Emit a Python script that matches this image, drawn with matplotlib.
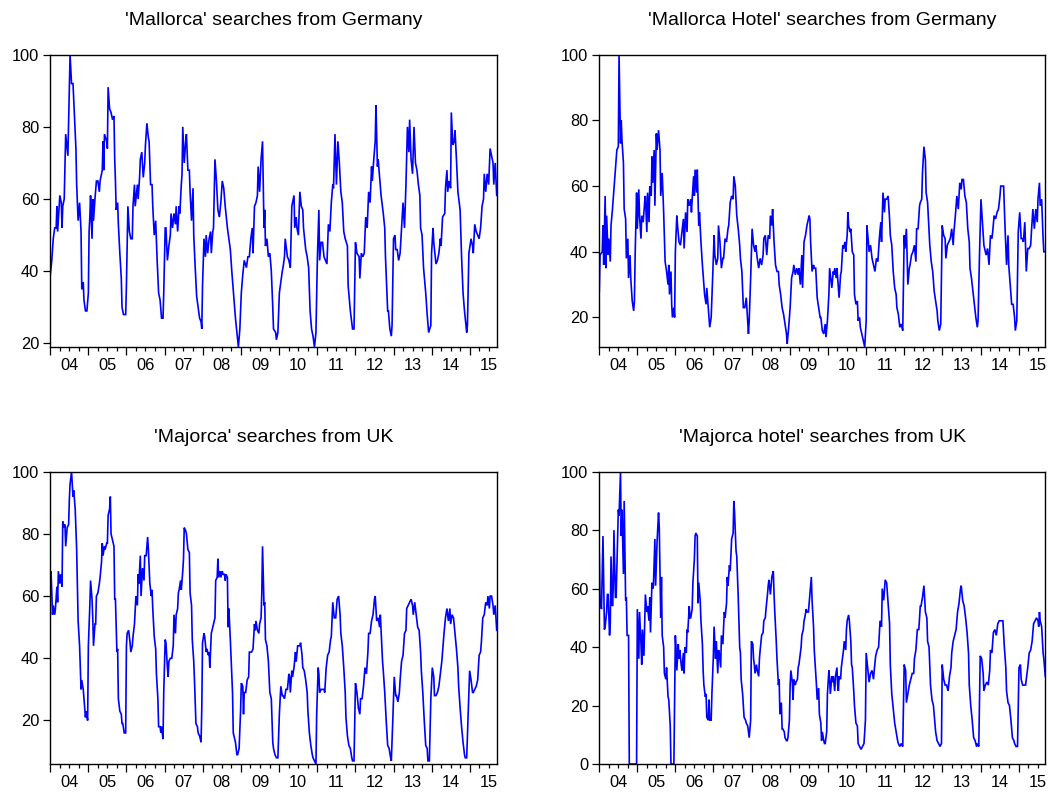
import numpy as np
import matplotlib
matplotlib.use('Agg')
import matplotlib.pyplot as plt
import matplotlib.dates as mdates
from matplotlib.ticker import NullFormatter

plt.rcParams['font.family'] = ['Liberation Sans', 'DejaVu Sans']

# ---------------- data (weekly Google Trends index, week 0 = 2004-01-04) -------------
start_date = '2004-01-04'
years = list(range(2004, 2016))
year_labels = ['04', '05', '06', '07', '08', '09', '10', '11', '12', '13', '14', '15']

titles = ["'Mallorca' searches from Germany",
          "'Mallorca Hotel' searches from Germany",
          "'Majorca' searches from UK",
          "'Majorca hotel' searches from UK"]

# (week, value)
mallorca_de = [(0,39),(2,43),(4,49),(6,52),(8,52),(9,58),(10,51),(13,61),(15,59),(16,52),(17,58),(19,60),
 (21,78),(24,72),(25,81),(27,100),(29,92),(31,92),(33,83),(35,74),(36,64),(38,54),(40,59),(42,51),(43,35),
 (45,37),(46,32),(48,29),(50,29),(52,34),(53,51),(54,55),(55,61),(57,49),(58,60),(59,54),(61,60),(63,65),
 (65,65),(67,62),(68,65),(71,68),(72,76),(73,68),(74,78),(77,76),(78,74),(79,91),(81,85),(83,84),(85,82),
 (87,83),(88,71),(89,65),(90,57),(92,59),(93,53),(95,45),(97,38),(98,30),(100,28),(103,28),(104,36),(105,47),
 (106,58),(108,51),(110,49),(112,49),(113,58),(115,64),(116,58),(119,64),(120,60),(122,66),(123,71),(125,73),
 (127,66),(129,70),(130,75),(132,81),(134,77),(135,76),(137,64),(139,64),(140,58),(142,50),(144,54),(146,43),
 (148,34),(150,32),(152,27),(154,27),(155,34),(157,52),(158,52),(160,43),(162,47),(164,50),(165,56),(167,52),
 (169,56),(171,53),(172,58),(174,51),(176,58),(177,56),(179,64),(180,67),(181,80),(183,70),(185,76),(186,78),
 (188,68),(190,68),(191,62),(193,54),(195,63),(196,50),(198,41),(200,33),(202,30),(204,27),(206,26),(207,24),
 (208,36),(210,49),(212,44),(213,50),(215,45),(217,49),(219,51),(220,45),(222,51),(223,52),(225,71),(227,65),
 (229,57),(231,55),(233,59),(235,65),(237,63),(239,58),(242,52),(244,49),(246,46),(248,40),(251,32),(253,27),
 (255,23),(257,19),(259,24),(261,34),(263,39),(265,43),(268,41),(270,44),(272,44),(274,49),(276,52),(277,45),
 (279,58),(281,59),(283,61),(284,69),(286,62),(288,71),(290,76),(292,52),(293,57),(294,47),(296,49),(298,44),
 (300,45),(302,40),(304,30),(305,24),(308,23),(309,21),(311,23),(313,34),(315,37),(317,40),(318,41),(320,44),
 (321,49),(324,44),(326,43),(328,41),(330,58),(331,59),(333,61),(334,52),(336,55),(337,52),(339,50),(341,62),
 (343,58),(345,57),(346,52),(349,46),(351,44),(353,41),(355,29),(357,24),(359,22),(361,19),(363,23),(365,44),
 (367,57),(368,43),(370,48),(372,48),(374,44),(376,43),(378,42),(380,53),(382,51),(384,59),(386,64),(387,63),
 (389,78),(391,64),(393,76),(395,70),(397,62),(399,59),(401,51),(403,49),(406,47),(407,36),(410,29),(413,24),
 (415,24),(417,48),(419,45),(422,44),(423,38),(425,45),(427,44),(429,45),(431,55),(433,52),(435,62),(437,59),
 (439,69),(440,65),(442,71),(444,76),(445,86),(447,69),(448,71),(450,66),(452,61),(455,56),(457,52),(458,44),
 (461,29),(462,29),(464,24),(466,22),(467,25),(469,49),(471,50),(472,46),(474,46),(476,43),(478,45),(480,52),
 (482,59),(484,52),(486,64),(488,80),(490,73),(491,82),(493,71),(495,67),(497,80),(499,70),(501,68),(503,64),
 (505,61),(506,52),(508,50),(510,41),(513,34),(515,28),(517,23),(520,25),(521,45),(523,52),(524,48),(527,42),
 (529,43),(531,45),(533,49),(534,47),(536,55),(539,56),(540,63),(542,68),(543,62),(545,65),(547,63),(548,84),
 (550,75),(552,76),(553,79),(555,71),(557,62),(560,57),(562,44),(564,34),(566,29),(569,23),(570,25),(572,45),
 (575,49),(577,47),(578,45),(580,53),(582,51),(584,50),(586,49),(588,52),(590,58),(592,60),(593,67),(595,62),
 (597,67),(599,64),(601,74),(603,72),(605,70),(606,64),(608,70),(610,61)]

mallorca_hotel_de = [(0,28),(1,39),(4,40),(5,48),(6,36),(8,57),(9,35),(10,51),(12,39),(13,44),(15,37),(16,48),
 (18,53),(20,59),(22,65),(24,71),(26,72),(27,100),(29,73),(30,80),(31,74),(33,67),(34,53),(36,50),(37,38),
 (39,44),(40,32),(42,39),(43,32),(45,25),(47,22),(48,25),(49,39),(51,58),(52,47),(54,59),(55,51),(57,44),
 (58,51),(60,49),(62,55),(63,57),(65,46),(66,58),(68,49),(69,60),(71,57),(72,69),(73,61),(75,71),(76,54),
 (78,76),(79,71),(81,77),(83,71),(84,57),(86,64),(88,52),(89,45),(90,37),(92,34),(94,30),(95,36),(96,27),
 (98,34),(99,24),(100,20),(102,23),(103,20),(104,40),(106,51),(107,48),(109,43),(111,42),(113,46),(115,50),
 (116,41),(118,52),(120,46),(121,56),(123,54),(125,56),(126,52),(127,56),(129,63),(130,57),(131,65),(133,58),
 (134,65),(136,48),(137,52),(139,43),(141,36),(143,30),(144,27),(146,24),(147,29),(149,23),(151,17),(153,20),
 (155,32),(157,45),(158,39),(160,36),(162,38),(163,48),(165,43),(167,35),(169,38),(170,38),(172,44),(174,43),
 (176,47),(177,48),(179,55),(181,57),(183,56),(184,63),(186,60),(188,51),(190,47),(192,42),(193,38),(195,34),
 (197,23),(199,23),(201,26),(203,19),(204,15),(205,19),(207,32),(209,47),(211,42),(213,40),(214,42),(216,38),
 (218,35),(220,38),(222,36),(224,39),(225,44),(227,45),(229,39),(231,45),(233,44),(234,51),(236,48),(237,53),
 (239,43),(241,36),(243,34),(245,34),(246,30),(248,27),(250,23),(252,21),(254,18),(256,15),(257,12),(259,17),
 (261,23),(263,32),(265,34),(266,36),(268,33),(270,35),(272,33),(273,35),(275,30),(277,39),(278,29),(280,43),
 (282,45),(284,48),(287,51),(288,50),(289,43),(291,34),(293,36),(294,35),(296,35),(298,26),(300,23),(302,20),
 (303,20),(305,16),(307,15),(309,18),(310,14),(312,19),(314,27),(315,35),(316,33),(318,29),(320,34),(321,33),
 (322,35),(324,32),(325,35),(327,29),(328,26),(330,33),(331,34),(333,42),(334,41),(336,43),(337,40),(339,45),
 (340,52),(341,48),(343,46),(344,47),(346,40),(348,39),(349,27),(351,24),(353,25),(354,19),(356,20),(357,17),
 (359,15),(361,13),(363,11),(365,19),(366,48),(368,43),(369,40),(371,42),(373,38),(375,36),(377,34),(379,38),
 (381,37),(383,44),(385,49),(386,43),(388,58),(390,52),(391,56),(393,56),(395,57),(397,50),(398,45),(400,42),
 (402,34),(404,29),(406,27),(407,23),(409,21),(411,17),(413,18),(415,16),(417,45),(418,41),(420,47),(422,30),
 (424,35),(425,36),(427,39),(429,40),(431,42),(433,37),(434,47),(436,47),(438,54),(439,55),(441,56),(442,64),
 (444,72),(446,68),(447,58),(449,55),(451,46),(452,42),(454,37),(456,34),(458,28),(460,25),(462,22),(463,19),
 (465,16),(467,18),(469,48),(471,45),(473,44),(474,38),(476,42),(478,43),(480,44),(482,47),(484,42),(485,46),
 (487,51),(489,57),(491,53),(493,61),(495,59),(496,62),(498,62),(500,57),(502,55),(504,47),(506,43),(507,35),
 (509,32),(511,28),(513,24),(515,20),(517,17),(518,19),(520,39),(522,56),(524,49),(526,42),(527,41),(529,39),
 (531,41),(533,36),(535,45),(537,44),(538,46),(540,51),(542,50),(544,52),(546,53),(548,57),(549,60),(551,60),
 (553,60),(555,47),(557,36),(559,45),(560,36),(562,30),(564,24),(566,24),(568,20),(569,16),(571,19),(573,46),
 (575,52),(577,44),(579,44),(580,43),(582,49),(584,34),(586,41),(588,41),(590,42),(591,46),(593,53),(595,47),
 (597,53),(599,49),(600,56),(602,61),(603,54),(605,56),(607,44),(608,40),(610,40)]

majorca_uk = [(0,63),(1,68),(3,54),(4,57),(6,54),(7,56),(9,63),(10,58),(11,68),(13,64),(14,67),(16,63),(17,84),
 (19,82),(20,83),(21,76),(23,82),(25,83),(26,91),(27,96),(29,100),(31,92),(32,94),(34,88),(36,75),(37,63),
 (38,52),(40,44),(42,30),(43,33),(45,30),(47,24),(48,21),(49,23),(51,20),(52,44),(54,57),(55,65),(57,59),
 (58,53),(59,44),(61,51),(62,51),(63,60),(65,61),(67,64),(68,66),(70,71),(71,77),(72,73),(74,76),(75,75),
 (77,77),(78,77),(79,86),(81,88),(82,92),(83,80),(85,78),(87,76),(88,59),(89,59),(91,42),(92,43),(93,27),
 (95,23),(97,22),(98,19),(99,19),(101,16),(103,16),(104,44),(105,48),(107,49),(109,45),(110,42),(112,44),
 (113,47),(115,51),(117,60),(119,57),(120,67),(121,64),(123,73),(124,60),(126,69),(128,65),(129,73),(131,73),
 (133,79),(134,75),(136,64),(138,60),(139,62),(140,56),(142,47),(144,43),(145,35),(147,27),(148,18),(150,18),
 (151,16),(152,18),(154,14),(155,29),(157,46),(158,45),(160,37),(161,34),(162,39),(164,40),(166,40),(168,44),
 (169,54),(171,48),(172,54),(174,56),(175,61),(176,62),(178,65),(179,62),(181,68),(182,72),(183,82),(185,81),
 (186,80),(188,75),(190,74),(191,61),(193,57),(194,46),(196,39),(197,33),(199,19),(201,18),(202,16),(204,15),
 (206,13),(207,24),(208,45),(210,48),(211,47),(213,42),(214,43),(216,41),(217,42),(218,37),(220,48),(222,50),
 (223,51),(225,53),(226,65),(228,66),(229,72),(230,66),(232,68),(233,66),(235,68),(236,67),(238,67),(239,65),
 (240,67),(242,66),(243,50),(244,56),(246,46),(248,35),(249,29),(250,16),(252,14),(253,13),(255,9),(256,9),
 (258,11),(260,23),(261,32),(263,31),(264,22),(265,29),(267,29),(268,31),(269,33),(271,34),(272,42),(274,42),
 (275,42),(277,43),(279,51),(280,49),(281,52),(283,49),(285,48),(286,51),(288,53),(289,61),(290,76),(292,57),
 (293,58),(294,46),(296,44),(298,39),(300,29),(302,27),(304,13),(305,11),(307,9),(309,8),(311,8),(313,22),
 (315,31),(317,28),(318,28),(320,27),(322,30),(324,30),(326,35),(327,34),(328,29),(330,36),(331,34),(333,37),
 (335,42),(336,39),(338,44),(339,44),(341,44),(342,45),(344,41),(345,37),(347,36),(349,33),(351,29),(352,23),
 (354,16),(356,12),(358,9),(359,8),(361,7),(363,6),(364,22),(366,37),(367,35),(368,29),(370,30),(372,30),
 (374,30),(375,29),(377,37),(379,41),(381,42),(383,46),(384,47),(386,58),(388,53),(390,53),(392,59),(394,60),
 (396,54),(397,48),(399,44),(401,37),(403,29),(404,21),(406,15),(408,12),(410,11),(412,8),(413,7),(415,7),
 (417,32),(419,29),(421,24),(423,22),(424,27),(426,27),(428,31),(430,37),(432,35),(434,42),(435,48),(437,48),
 (439,52),(441,54),(443,59),(444,60),(446,52),(448,53),(450,50),(451,54),(454,39),(455,36),(457,29),(459,20),
 (461,12),(463,11),(465,8),(466,7),(468,20),(470,34),(472,28),(473,28),(475,26),(477,29),(478,33),(480,39),
 (482,41),(484,48),(486,49),(487,56),(489,57),(491,58),(493,59),(495,57),(496,54),(498,58),(500,54),(502,50),
 (504,49),(506,42),(507,36),(509,29),(511,20),(513,12),(515,11),(516,7),(518,7),(520,27),(522,37),(524,34),
 (525,28),(527,28),(529,29),(531,31),(533,35),(535,39),(536,42),(538,48),(540,53),(542,56),(544,52),(546,56),
 (547,51),(549,54),(551,53),(553,48),(555,43),(557,37),(558,31),(560,24),(562,18),(564,13),(566,9),(567,8),
 (569,8),(571,22),(573,36),(575,33),(577,29),(578,29),(580,30),(582,31),(584,33),(586,41),(588,42),(589,45),
 (591,53),(593,54),(595,58),(597,57),(598,60),(600,56),(601,60),(603,60),(605,57),(606,54),(608,57),(610,49)]

majorca_hotel_uk = [(0,72),(1,56),(3,53),(4,65),(5,78),(7,46),(8,47),(10,52),(11,58),(12,58),(14,44),(15,48),
 (16,71),(18,54),(19,60),(20,80),(22,57),(23,57),(25,77),(26,87),(27,85),(29,100),(30,78),(31,87),(33,65),
 (34,90),(36,56),(37,57),(38,44),(40,44),(41,0),(51,0),(52,53),(54,36),(55,52),(57,41),(58,34),(59,46),
 (61,37),(62,47),(63,58),(65,52),(66,54),(68,49),(69,57),(70,45),(72,62),(73,60),(74,61),(76,77),(77,61),
 (79,76),(81,86),(82,81),(84,50),(85,64),(86,44),(88,40),(89,31),(91,29),(92,33),(94,23),(95,22),(97,13),
 (98,0),(102,0),(104,44),(105,39),(106,32),(108,41),(109,36),(110,39),(112,34),(113,32),(115,38),(116,31),
 (117,40),(119,38),(120,46),(121,45),(123,54),(124,50),(125,50),(127,53),(128,62),(130,70),(131,78),(132,79),
 (134,78),(135,55),(136,62),(138,56),(139,49),(141,41),(142,32),(143,27),(145,23),(146,24),(147,16),(149,15),
 (150,22),(151,15),(153,15),(154,24),(156,37),(157,47),(159,36),(160,42),(162,31),(163,39),(164,38),(166,33),
 (167,44),(169,41),(170,47),(171,52),(172,50),(174,55),(175,64),(176,61),(178,68),(179,66),(181,77),(183,79),
 (184,90),(185,86),(187,73),(188,71),(190,57),(192,40),(193,38),(194,29),(196,24),(197,20),(198,16),(200,15),
 (201,14),(203,13),(204,11),(205,9),(207,15),(208,42),(210,41),(211,36),(212,34),(213,31),(215,34),(216,32),
 (218,30),(219,36),(220,39),(222,44),(224,45),(225,49),(227,50),(228,53),(230,58),(231,61),(232,63),(234,58),
 (235,61),(236,64),(238,66),(239,58),(240,52),(242,42),(243,36),(245,27),(246,29),(247,17),(249,21),(250,12),
 (251,12),(253,11),(254,9),(256,8),(257,8),(258,9),(260,15),(261,27),(262,32),(264,28),(265,22),(266,29),
 (268,27),(269,28),(271,29),(272,33),(273,34),(275,38),(276,40),(277,44),(279,46),(280,49),(281,50),(283,53),
 (284,52),(286,52),(288,58),(290,64),(291,56),(293,47),(294,39),(296,31),(297,27),(298,22),(300,26),(301,17),
 (303,14),(304,8),(305,11),(307,8),(308,7),(309,7),(311,11),(312,24),(314,32),(315,29),(316,24),(318,30),
 (319,28),(320,30),(322,25),(323,30),(325,33),(326,27),(327,25),(328,30),(330,29),(331,33),(333,37),(334,39),
 (335,42),(337,39),(338,46),(339,49),(341,51),(342,49),(344,42),(345,34),(346,33),(348,25),(349,20),(351,14),
 (353,13),(354,7),(356,6),(358,5),(360,6),(362,7),(364,15),(365,38),(367,33),(369,28),(371,31),(373,32),
 (375,29),(376,32),(378,37),(380,39),(382,40),(384,49),(386,47),(387,60),(389,56),(391,63),(393,62),(395,55),
 (397,48),(398,34),(400,24),(402,19),(404,14),(406,11),(408,8),(409,7),(411,6),(413,7),(415,6),(417,34),
 (419,32),(420,21),(422,24),(424,27),(426,29),(428,31),(430,31),(431,36),(433,39),(435,46),(437,46),(439,54),
 (440,54),(442,57),(444,61),(446,52),(448,50),(449,42),(451,40),(453,27),(455,22),(457,20),(459,14),(460,11),
 (462,8),(464,7),(466,6),(468,7),(469,34),(471,29),(473,27),(475,27),(477,25),(479,30),(481,33),(482,38),
 (484,42),(486,44),(488,46),(490,52),(492,55),(494,60),(495,61),(497,56),(499,54),(501,50),(503,45),(505,38),
 (506,27),(508,20),(510,15),(512,9),(514,8),(516,6),(517,7),(519,6),(521,37),(523,36),(525,31),(526,25),
 (528,27),(530,28),(532,27),(534,32),(535,39),(537,38),(539,45),(541,46),(543,44),(545,48),(547,49),(548,49),
 (550,49),(552,49),(554,40),(556,33),(557,25),(559,21),(561,20),(563,15),(565,9),(567,8),(568,7),(570,6),
 (572,6),(574,33),(576,34),(577,29),(579,27),(581,27),(583,27),(585,31),(586,33),(588,38),(590,39),(592,42),
 (594,48),(596,49),(598,50),(600,49),(601,47),(602,52),(603,49),(605,47),(607,38),(608,36),(610,30)]

y_ticks = [[20, 40, 60, 80, 100], [20, 40, 60, 80, 100], [20, 40, 60, 80, 100], [0, 20, 40, 60, 80, 100]]
series = [mallorca_de, mallorca_hotel_de, majorca_uk, majorca_hotel_uk]

# ---------------- drawing ----------------
W, H = 1048, 794
fig = plt.figure(figsize=(W / 100, H / 100), dpi=100)

# panel boxes in pixels: left, top, right, bottom
boxes = [(50, 54.7, 496.7, 347), (599, 54.7, 1045.3, 347),
         (50, 471.7, 496.7, 764), (599, 471.7, 1045.3, 764)]

base = np.datetime64(start_date)


def week_dates(weeks):
    d = base + (7 * np.asarray(weeks)).astype('timedelta64[D]')
    return mdates.date2num(d)


year_starts = mdates.date2num(np.array([np.datetime64(f'{y}-01-01') for y in years]))
quarters = mdates.date2num(np.array([np.datetime64(f'{y}-{m:02d}-01') for y in years for m in (4, 7, 10)]))
year_mids = mdates.date2num(np.array([np.datetime64(f'{y}-07-02') for y in years]))

for pts, title, yt, (l, t, r, b) in zip(series, titles, y_ticks, boxes):
    ax = fig.add_axes([l / W, 1 - b / H, (r - l) / W, (b - t) / H])
    wk = [p[0] for p in pts]
    vals = [p[1] for p in pts]
    x = week_dates(wk)
    ax.plot(x, vals, color='#0000FF', lw=1.2, solid_joinstyle='miter')
    ax.set_xlim(year_starts[0], x[-1])
    ax.set_ylim(min(vals), max(vals))
    for s in ax.spines.values():
        s.set_linewidth(1.0)
        s.set_color('black')
    ax.set_yticks(yt)
    ax.set_yticklabels([str(v) for v in yt])
    ax.tick_params(axis='y', which='major', direction='out', length=5.3, width=0.9,
                   pad=2.5, labelsize=11.8, right=False)
    ax.set_xticks([v for v in year_starts if v <= x[-1]])
    ax.set_xticks([v for v in quarters if v <= x[-1]], minor=True)
    ax.xaxis.set_major_formatter(NullFormatter())
    ax.tick_params(axis='x', which='major', direction='out', length=5.5, width=0.9, top=False)
    ax.tick_params(axis='x', which='minor', direction='out', length=3.0, width=0.9, top=False)
    for xm, lab in zip(year_mids, year_labels):
        ax.annotate(lab, xy=(xm, 0), xycoords=('data', 'axes fraction'),
                    xytext=(0, -13.5), textcoords='offset points',
                    ha='center', va='center', fontsize=11.8, annotation_clip=False)
    fig.text(((l + r) / 2) / W, 1 - (t - 34.5) / H, title, ha='center', va='center', fontsize=14)

fig.savefig('out.png', dpi=100)
